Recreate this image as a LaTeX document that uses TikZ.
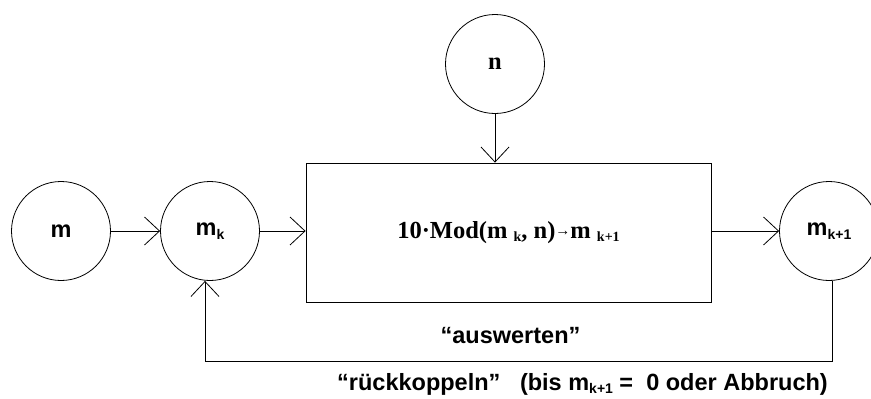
\documentclass[tikz,border=0pt]{standalone}
\usepackage{fontspec}
\setmainfont{Liberation Serif}
\newfontfamily\arialf{Liberation Sans}
\usetikzlibrary{arrows.meta}
\tikzset{
  circ/.style={circle, draw, line width=0.8pt, minimum size=99pt, inner sep=0pt},
  sanslbl/.style={font=\arialf\bfseries\fontsize{23.5}{28}\selectfont},
  seriflbl/.style={font=\bfseries\fontsize{24.5}{29}\selectfont},
  arr/.style={line width=0.8pt, -{Straight Barb[length=15pt, width=28pt, line width=0.8pt]}},
  ln/.style={line width=0.8pt}
}
\newcommand{\sbk}[1]{\raisebox{-0.3ex}{\fontsize{14}{16}\selectfont #1}}
\begin{document}
\begin{tikzpicture}[x=1pt, y=-1pt]
\useasboundingbox (0,0) rectangle (871,399);
\begin{scope}
\clip (0,0) rectangle (871,399);
\node[circ, sanslbl] (m) at (61,231) {m};
\node[circ, sanslbl] (mk) at (210,231) {m\sbk{k}};
\node[circ, seriflbl] (n) at (495,64) {n};
\node[draw, line width=0.8pt, minimum width=405pt, minimum height=139pt, inner sep=0pt, seriflbl] (box) at (508.5,232.5) {10·Mod(m\ \sbk{k}, n)\raisebox{0.25ex}{\fontsize{15}{15}\selectfont →}m\ \sbk{k+1}};
\node[circ, sanslbl] (mk1) at (829,231) {m\sbk{k+1}};
\end{scope}
\draw[arr] (m.east) -- (mk.west);
\draw[arr] (mk.east) -- (box.west |- mk.east);
\draw[arr] (n.south) -- (box.north -| n.south);
\draw[arr] (box.east |- mk1.west) -- (mk1.west);
\coordinate (c1) at (832,361);
\coordinate (c2) at (205,361);
\draw[ln] (mk1.south -| c1) -- (c1) -- (c2);
\draw[arr] (c2) -- (mk.south -| c2);
\node[sanslbl, anchor=base, inner sep=0pt] (aus) at (510.5,343) {“auswerten”};
\node[sanslbl, anchor=base west, inner sep=0pt] (rk) at (337,390) {“rückkoppeln”\ \ \ (bis m\sbk{k+1} =\ \ 0 oder Abbruch)};
\end{tikzpicture}
\end{document}
